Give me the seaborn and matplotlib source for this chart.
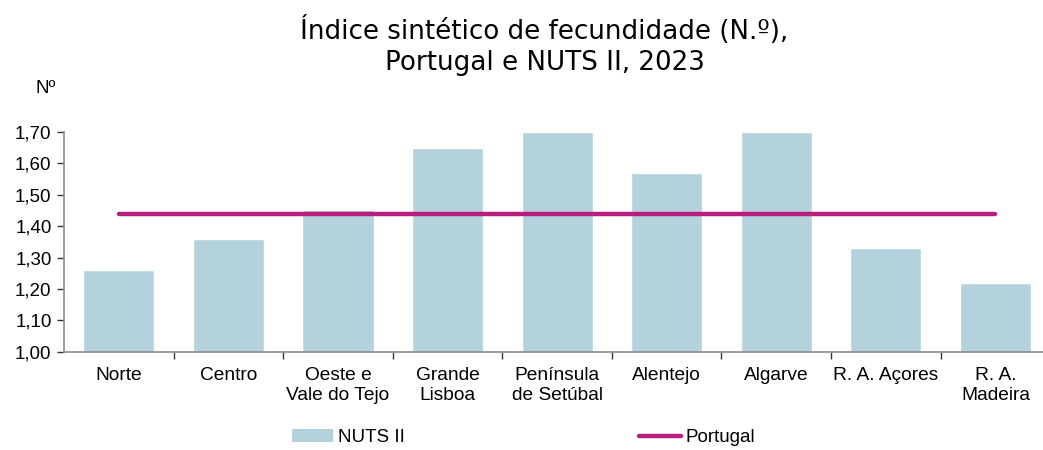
import numpy as np
import pandas as pd
import matplotlib
matplotlib.use("Agg")
import matplotlib.pyplot as plt
import seaborn as sns
from matplotlib.lines import Line2D
from matplotlib.patches import Patch
from matplotlib.ticker import FuncFormatter, FixedLocator

# data
regioes = ["Norte", "Centro", "Oeste e\nVale do Tejo", "Grande\nLisboa",
           "Península\nde Setúbal", "Alentejo", "Algarve", "R. A. Açores",
           "R. A.\nMadeira"]
nuts_ii = [1.26, 1.36, 1.45, 1.65, 1.70, 1.57, 1.70, 1.33, 1.22]
portugal = [1.44, 1.44, 1.44, 1.44, 1.44, 1.44, 1.44, 1.44, 1.44]

bar_color = "#B4D2DC"
line_color = "#B81E7C"
spine_color = "#8C8C8C"

sns.set_theme(style="white")
plt.rcParams["font.family"] = ["Liberation Sans", "DejaVu Sans"]
plt.rcParams["text.color"] = "black"
plt.rcParams["xtick.color"] = "black"
plt.rcParams["ytick.color"] = "black"

df = pd.DataFrame({"Regiao": regioes, "Valor": nuts_ii})

fig = plt.figure(figsize=(10.43, 4.5), dpi=100)
ax = fig.add_axes([0.0614, 0.218, 0.9455, 0.489])

sns.barplot(data=df, x="Regiao", y="Valor", color=bar_color, width=0.65,
            saturation=1, ax=ax)

pos = np.arange(len(regioes))
ax.plot(pos, portugal, color=line_color, lw=3.2, solid_capstyle="round")

ax.set_xlim(-0.5, len(regioes) - 0.5)
ax.set_ylim(1.0, 1.70)
ax.set_yticks(np.arange(1.0, 1.701, 0.1))
ax.yaxis.set_major_formatter(FuncFormatter(lambda v, _: f"{v:.2f}".replace(".", ",")))

ax.set_xticks(pos)
ax.set_xticklabels(regioes)
ax.xaxis.set_minor_locator(FixedLocator(pos[:-1] + 0.5))
ax.tick_params(axis="x", which="major", length=0, pad=11, labelsize=13.8)
ax.tick_params(axis="x", which="minor", length=5, width=1, color="#333333",
               direction="out", bottom=True)
ax.tick_params(axis="y", length=5, width=1, color="#333333", direction="out",
               left=True, labelsize=13.5, pad=4)
for lab in ax.get_xticklabels():
    lab.set_linespacing(1.2)

for side in ["top", "right"]:
    ax.spines[side].set_visible(False)
for side in ["left", "bottom"]:
    ax.spines[side].set_color(spine_color)
    ax.spines[side].set_linewidth(1.2)

ax.set_xlabel("")
ax.set_ylabel("")
ax.grid(False)

fig.text(0.034, 0.785, "Nº", fontsize=13.5, ha="left", va="bottom")
fig.text(0.522, 0.965, "Índice sintético de fecundidade (N.º),\nPortugal e NUTS II, 2023",
         ha="center", va="top", fontsize=18.8, linespacing=1.25,
         family=["DejaVu Sans"])

handles = [Patch(facecolor=bar_color, edgecolor="none"),
           Line2D([0], [0], color=line_color, lw=3.2)]
fig.legend(handles, ["NUTS II", "Portugal"], loc="center",
           bbox_to_anchor=(0.502, 0.027), ncol=2, frameon=False,
           fontsize=13.5, columnspacing=12.5, handlelength=2.2,
           handletextpad=0.25)

fig.savefig("out.png", dpi=100)
